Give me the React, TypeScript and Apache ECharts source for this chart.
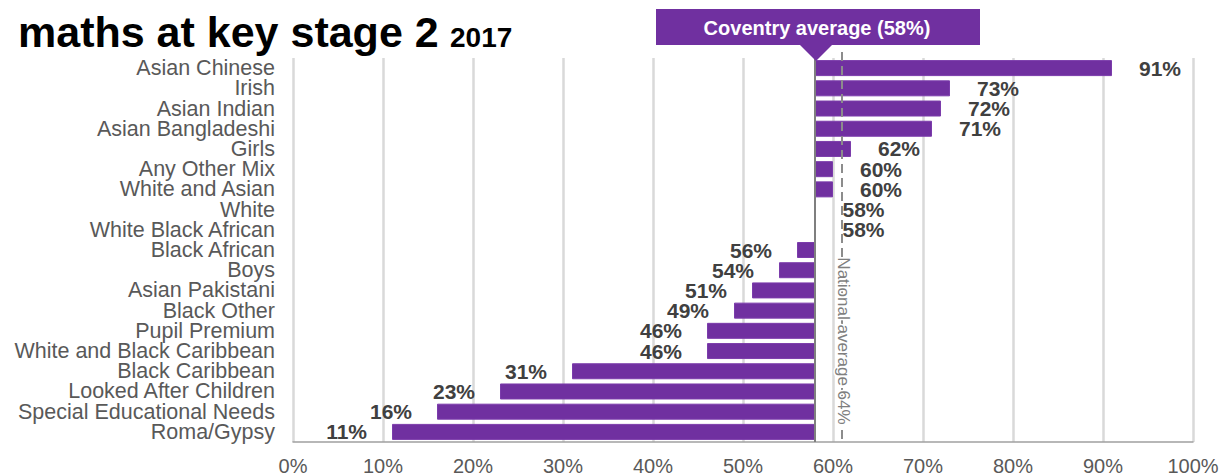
import React, { useEffect, useRef } from "react";
import * as echarts from "echarts";

const categories = [
  "Asian Chinese",
  "Irish",
  "Asian Indian",
  "Asian Bangladeshi",
  "Girls",
  "Any Other Mix",
  "White and Asian",
  "White",
  "White Black African",
  "Black African",
  "Boys",
  "Asian Pakistani",
  "Black Other",
  "Pupil Premium",
  "White and Black Caribbean",
  "Black Caribbean",
  "Looked After Children",
  "Special Educational Needs",
  "Roma/Gypsy",
];
const values = [91, 73, 72, 71, 62, 60, 60, 58, 58, 56, 54, 51, 49, 46, 46, 31, 23, 16, 11];
const coventryAverage = 58;
const nationalLineValue = 61;
const nationalLabel = "National average 64%";
const coventryLabel = "Coventry average (58%)";
const titleMain = "maths at key stage 2";
const titleYear = "2017";

const FONT = '"Liberation Sans", Arial, sans-serif';
const PURPLE = "#7030A0";

export default function App() {
  const ref = useRef<HTMLDivElement>(null);
  useEffect(() => {
    if (!ref.current) return;
    const chart = echarts.init(ref.current, undefined, { renderer: "svg" });
    const baseVals = values.map((v) => Math.min(v, coventryAverage));
    const diffVals = values.map((v) => ({
      value: Math.abs(v - coventryAverage),
      label: {
        show: true,
        position: v >= coventryAverage ? "right" : "left",
        distance: v >= coventryAverage ? 27 : 25,
        formatter: `${v}%`,
        fontFamily: FONT,
        fontSize: 21,
        fontWeight: "bold",
        color: "#404040",
      },
    }));
    const gridTop = 58;
    const gridBottom = 34;
    chart.setOption({
      animation: false,
      grid: { left: 293, right: 29, top: gridTop, bottom: gridBottom },
      xAxis: {
        type: "value",
        min: 0,
        max: 100,
        interval: 10,
        axisLabel: {
          formatter: "{value}%",
          fontFamily: FONT,
          fontSize: 20,
          color: "#595959",
          margin: 14,
        },
        axisLine: { show: true, lineStyle: { color: "#a0a0a0", width: 1.5 } },
        axisTick: { show: false },
        splitLine: { show: true, lineStyle: { color: "#d9d9d9", width: 2.5 } },
      },
      yAxis: {
        type: "category",
        data: categories,
        inverse: true,
        axisLine: { show: false },
        axisTick: { show: false },
        splitLine: { show: false },
        axisLabel: {
          fontFamily: FONT,
          fontSize: 21.5,
          lineHeight: 20,
          color: "#595959",
          margin: 18,
          interval: 0,
        },
      },
      series: [
        {
          type: "bar",
          stack: "a",
          data: baseVals,
          barWidth: 16,
          silent: true,
          itemStyle: { color: "transparent" },
        },
        {
          type: "bar",
          stack: "a",
          data: diffVals,
          barWidth: 16,
          itemStyle: { color: PURPLE, borderColor: "#7b3cab", borderWidth: 1 },
        },
      ],
    });

    const x58 = chart.convertToPixel({ xAxisIndex: 0 }, coventryAverage) as number;
    const x61 = chart.convertToPixel({ xAxisIndex: 0 }, nationalLineValue) as number;
    const h = chart.getHeight();
    const yBottom = h - gridBottom;

    chart.setOption({
      graphic: [
        {
          type: "text",
          x: 18,
          y: 32,
          z: 100,
          style: {
            text: titleMain,
            font: `bold 43px ${FONT}`,
            fill: "#000",
            textAlign: "left",
            textVerticalAlign: "middle",
          },
        },
        {
          type: "text",
          x: 450,
          y: 37,
          z: 100,
          style: {
            text: titleYear,
            font: `bold 28px ${FONT}`,
            fill: "#000",
            textAlign: "left",
            textVerticalAlign: "middle",
          },
        },
        {
          type: "line",
          z: 100,
          shape: { x1: x61, y1: 52, x2: x61, y2: yBottom },
          style: { stroke: "#8c8c8c", lineWidth: 2, lineDash: [9, 5] },
        },
        {
          type: "line",
          z: 101,
          shape: { x1: x58, y1: 53, x2: x58, y2: yBottom },
          style: { stroke: "#7f7f7f", lineWidth: 2 },
        },
        {
          type: "rect",
          z: 102,
          shape: { x: x58 - 159, y: 9, width: 324, height: 36 },
          style: { fill: PURPLE },
        },
        {
          type: "polygon",
          z: 102,
          shape: {
            points: [
              [x58 - 16, 44],
              [x58 + 18, 44],
              [x58 + 1, 61],
            ],
          },
          style: { fill: PURPLE },
        },
        {
          type: "text",
          z: 103,
          x: x58 + 2,
          y: 28,
          style: {
            text: coventryLabel,
            font: `bold 20px ${FONT}`,
            fill: "#ffffff",
            textAlign: "center",
            textVerticalAlign: "middle",
          },
        },
        {
          type: "text",
          z: 103,
          x: x61 + 1,
          y: 341,
          rotation: -Math.PI / 2,
          style: {
            text: nationalLabel,
            font: `17px ${FONT}`,
            fill: "#7f7f7f",
            textAlign: "center",
            textVerticalAlign: "middle",
            stroke: "#ffffff",
            lineWidth: 3,
          },
        },
      ],
    });
    return () => chart.dispose();
  }, []);
  return (
    <div
      ref={ref}
      style={{ position: "fixed", left: 0, top: 0, width: 1222, height: 476, background: "#fff" }}
    />
  );
}
